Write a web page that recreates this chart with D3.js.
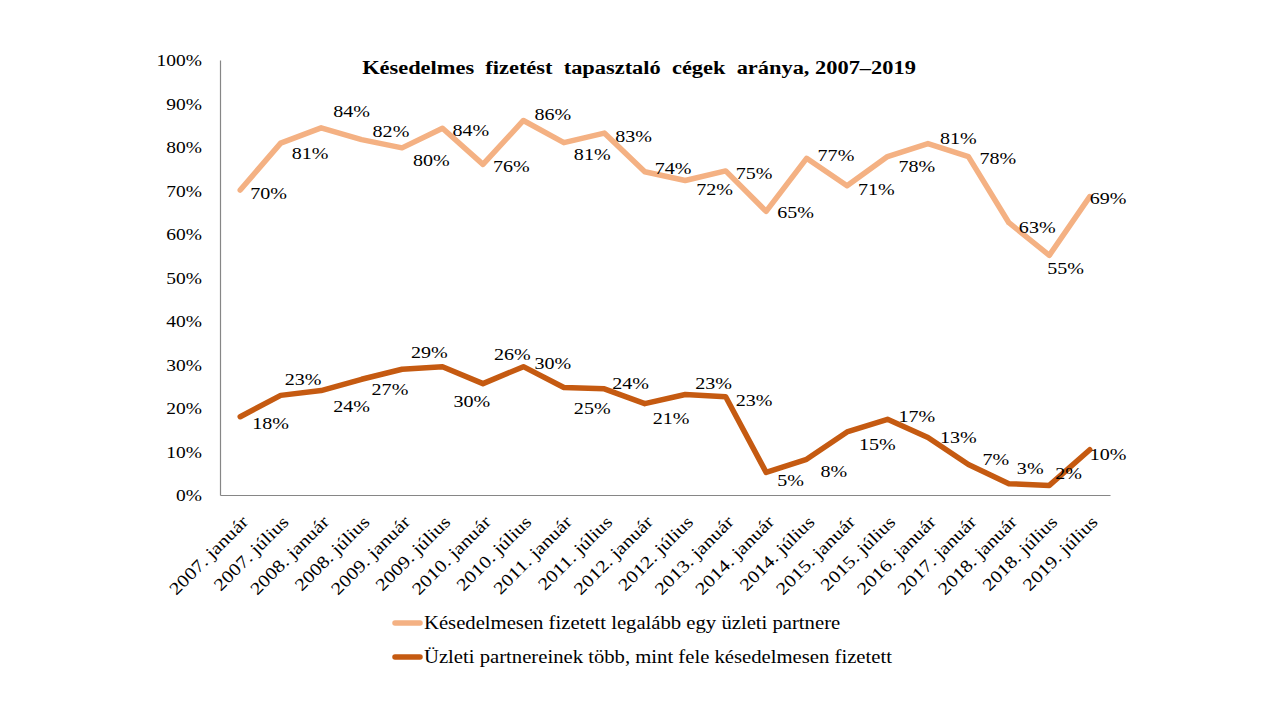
<!DOCTYPE html>
<html>
<head>
<meta charset="utf-8">
<script src="https://cdn.jsdelivr.net/npm/d3@7"></script>
<style>
  html, body { margin: 0; padding: 0; background: #ffffff; }
  svg { display: block; }
  text { font-family: "Liberation Serif", "Times New Roman", serif; fill: #000; }
</style>
</head>
<body>
<svg id="chart" width="1280" height="720"></svg>
<script>
// ---------- data ----------
const title = "Késedelmes  fizetést  tapasztaló  cégek  aránya, 2007–2019";
const categories = [
  "2007. január", "2007. július", "2008. január", "2008. július",
  "2009. január", "2009. július", "2010. január", "2010. július",
  "2011. január", "2011. július", "2012. január", "2012. július",
  "2013. január", "2014. január", "2014. július", "2015. január",
  "2015. július", "2016. január", "2017. január", "2018. január",
  "2018. július", "2019. július"
];
const seriesNames = [
  "Késedelmesen fizetett legalább egy üzleti partnere",
  "Üzleti partnereinek több, mint fele késedelmesen fizetett"
];
// values in percent
const series1 = [70.1, 80.9, 84.4, 81.7, 79.8, 84.3, 76.0, 86.1, 81.0, 83.2, 74.3,
                 72.3, 74.5, 65.2, 77.4, 71.1, 77.8, 80.8, 77.8, 62.6, 55.1, 68.6];
const series2 = [18.0, 22.9, 24.0, 26.6, 28.9, 29.5, 25.6, 29.5, 24.7, 24.4, 21.0,
                 23.1, 22.6, 5.2, 8.2, 14.5, 17.4, 13.2, 7.0, 2.6, 2.2, 10.4];
const yTicks = [0, 10, 20, 30, 40, 50, 60, 70, 80, 90, 100];

// ---------- label placement (nudges from each point: [dx, dy]) ----------
const labelNudge1 = [[10,3],[11,10],[12,-17],[11,-9],[11,12],[10,2],[10,2],[11,-6],[10,11],[11,3],[10,-4],
                     [11,9],[10,2],[11,1],[11,-3],[11,3],[11,9],[12,-5],[11,1],[10,4],[-2,13],[0,1]];
const labelNudge2 = [[12,6],[4,-16],[12,15],[10,10],[9,-17],[11,34],[11,-30],[11,-4],[10,20],[8,-6],[8,14],
                     [10,-11],[10,3],[11,8],[14,12],[12,12],[11,-3],[12,-1],[14,-6],[8,-16],[6,-12],[0,4]];

// ---------- style ----------
const colors = ["#F4B183", "#C55A11"];
const axisColor = "#868686";
const SX = 1.18;        // horizontal text stretch of the original
const margin = { left: 220, right: 1110, top: 60, bottom: 495 };

const svg = d3.select("#chart");

const x = d3.scaleBand().domain(categories).range([margin.left, margin.right]);
const y = d3.scaleLinear().domain([0, 100]).range([margin.bottom, margin.top]);
const cx = c => x(c) + x.bandwidth() / 2;

// title
svg.append("text")
  .attr("transform", `translate(639,74) scale(${SX},1)`)
  .attr("text-anchor", "middle")
  .style("font-size", "19px")
  .style("font-weight", "bold")
  .style("white-space", "pre")
  .text(title);

// y axis
const yAxis = svg.append("g")
  .attr("transform", `translate(${margin.left},0)`)
  .call(d3.axisLeft(y).tickValues(yTicks).tickSize(0).tickSizeOuter(0).tickFormat(d => d + "%"));
yAxis.select(".domain").attr("stroke", axisColor).attr("stroke-width", 1.2);
yAxis.selectAll("text")
  .attr("x", 0).attr("dy", "0.35em")
  .attr("transform", `translate(-18,0) scale(${SX},1)`)
  .style("font-size", "16.5px")
  .style("font-family", '"Liberation Serif", serif')
  .attr("fill", "#000");

// x axis
const xAxis = svg.append("g")
  .attr("transform", `translate(0,${margin.bottom})`)
  .call(d3.axisBottom(x).tickSize(0).tickSizeOuter(0));
xAxis.select(".domain").attr("stroke", axisColor).attr("stroke-width", 1.2);
xAxis.selectAll("text")
  .attr("y", 0).attr("dy", 0)
  .attr("text-anchor", "end")
  .attr("transform", `translate(9,28) rotate(-45) scale(${SX},1)`)
  .style("font-size", "17.5px")
  .style("font-family", '"Liberation Serif", serif')
  .attr("fill", "#000");

// lines
const allSeries = [series1, series2];
const nudges = [labelNudge1, labelNudge2];
const line = d3.line()
  .x((d, i) => cx(categories[i]))
  .y(d => y(d));

allSeries.forEach((s, k) => {
  svg.append("path")
    .datum(s)
    .attr("d", line)
    .attr("fill", "none")
    .attr("stroke", colors[k])
    .attr("stroke-width", 5.5)
    .attr("stroke-linejoin", "round")
    .attr("stroke-linecap", "round");
});

// data labels
allSeries.forEach((s, k) => {
  svg.append("g").selectAll("text")
    .data(s)
    .join("text")
    .attr("transform", (d, i) =>
      `translate(${cx(categories[i]) + nudges[k][i][0]},${y(d) + nudges[k][i][1]}) scale(${SX},1)`)
    .attr("dy", "0.35em")
    .attr("text-anchor", "start")
    .style("font-size", "17px")
    .text(d => Math.round(d) + "%");
});

// legend
const legendY = [623, 657];
const legend = svg.append("g");
seriesNames.forEach((name, k) => {
  legend.append("line")
    .attr("x1", 395).attr("x2", 420)
    .attr("y1", legendY[k]).attr("y2", legendY[k])
    .attr("stroke", colors[k])
    .attr("stroke-width", 5.5)
    .attr("stroke-linecap", "round");
  legend.append("text")
    .attr("transform", `translate(424,${legendY[k]}) scale(1.15,1)`)
    .attr("dy", "0.35em")
    .style("font-size", "18px")
    .text(name);
});
</script>
</body>
</html>
